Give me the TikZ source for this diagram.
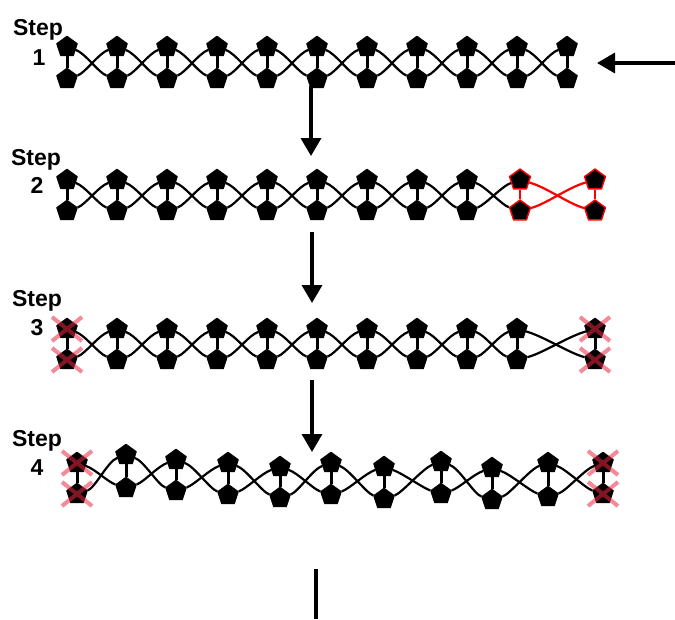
\documentclass[tikz,border=0pt]{standalone}
\usepackage{fontspec}
\setmainfont{Liberation Sans}
\usetikzlibrary{shapes.geometric,arrows.meta}
\definecolor{xred}{RGB}{235,40,65}
\tikzset{
 pent/.style={regular polygon,regular polygon sides=5,minimum size=22pt,inner sep=0pt,fill=black,draw=black,line width=0.6pt,line join=round},
 redpent/.style={pent,draw=red,line width=1.4pt},
 rung/.style={line width=3pt},
 wave/.style={line width=2.2pt},
 steplabel/.style={font=\bfseries\fontsize{23}{25}\selectfont,anchor=base,inner sep=0pt},
 bigarrow/.style={line width=3.5pt,-{Triangle[length=18pt,width=20pt]}},
 xmark/.style={xred,opacity=0.55,line width=4pt},
}
\begin{document}
\begin{tikzpicture}[x=1pt,y=-1pt]
\useasboundingbox (0,0) rectangle (675,619);

% labels
\node[steplabel] (s1) at (38,35) {Step};
\node[steplabel] (n1) at (39,65) {1};
\node[steplabel] (s2) at (36,165) {Step};
\node[steplabel] (n2) at (37,193) {2};
\node[steplabel] (s3) at (37,306) {Step};
\node[steplabel] (n3) at (37,335) {3};
\node[steplabel] (s4) at (37,446) {Step};
\node[steplabel] (n4) at (37,475) {4};

% ---------- Step 1 ----------
\foreach \i in {0,...,10}{
  \node[pent] (t1-\i) at (67+50*\i,47) {};
  \node[pent] (b1-\i) at (67+50*\i,79) {};
  \draw[rung] (t1-\i) -- (b1-\i);
}
\foreach \i [evaluate=\i as \j using int(\i+1)] in {0,...,9}{
  \draw[wave] (t1-\i) .. controls +(18,6) and +(-18,-6) .. (b1-\j);
  \draw[wave] (b1-\i) .. controls +(18,-6) and +(-18,6) .. (t1-\j);
}

% ---------- Step 2 ----------
\foreach \i in {0,...,8}{
  \node[pent] (t2-\i) at (67+50*\i,180) {};
  \node[pent] (b2-\i) at (67+50*\i,211) {};
  \draw[rung] (t2-\i) -- (b2-\i);
}
\node[redpent] (t2-9) at (520,180) {};
\node[redpent] (b2-9) at (520,211) {};
\node[redpent] (t2-10) at (595,180) {};
\node[redpent] (b2-10) at (595,211) {};
\draw[rung,red,line width=2.5pt] (t2-9) -- (b2-9);
\draw[rung,red,line width=2.5pt] (t2-10) -- (b2-10);
\foreach \i [evaluate=\i as \j using int(\i+1)] in {0,...,8}{
  \draw[wave] (t2-\i) .. controls +(18,6) and +(-18,-6) .. (b2-\j);
  \draw[wave] (b2-\i) .. controls +(18,-6) and +(-18,6) .. (t2-\j);
}
\draw[wave,red] (t2-9) .. controls +(26,7) and +(-26,-7) .. (b2-10);
\draw[wave,red] (b2-9) .. controls +(26,-7) and +(-26,7) .. (t2-10);

% ---------- Step 3 ----------
\foreach \i in {0,...,9}{
  \node[pent] (t3-\i) at (67+50*\i,329) {};
  \node[pent] (b3-\i) at (67+50*\i,360) {};
  \draw[rung] (t3-\i) -- (b3-\i);
}
\node[pent] (t3-10) at (595,329) {};
\node[pent] (b3-10) at (595,360) {};
\draw[rung] (t3-10) -- (b3-10);
\foreach \i [evaluate=\i as \j using int(\i+1)] in {0,...,8}{
  \draw[wave] (t3-\i) .. controls +(18,6) and +(-18,-6) .. (b3-\j);
  \draw[wave] (b3-\i) .. controls +(18,-6) and +(-18,6) .. (t3-\j);
}
\draw[wave] (t3-9) .. controls +(26,7) and +(-26,-7) .. (b3-10);
\draw[wave] (b3-9) .. controls +(26,-7) and +(-26,7) .. (t3-10);

% ---------- Step 4 ----------
\foreach \i/\x/\yt/\yb in {0/77/463/494,1/126/455/488,2/176/460/491,3/228/463/495,
  4/280/467/498,5/331/463/495,6/384/467/499,7/441/462/494,8/492/468/500,
  9/548/463/497,10/603/463/494}{
  \node[pent] (t4-\i) at (\x,\yt) {};
  \node[pent] (b4-\i) at (\x,\yb) {};
  \draw[rung] (t4-\i) -- (b4-\i);
}
\foreach \i [evaluate=\i as \j using int(\i+1)] in {0,...,9}{
  \draw[wave] (t4-\i) .. controls +(18,6) and +(-18,-6) .. (b4-\j);
  \draw[wave] (b4-\i) .. controls +(18,-6) and +(-18,6) .. (t4-\j);
}

% ---------- crosses ----------
\foreach \n in {t3-0,b3-0,t3-10,b3-10,t4-0,b4-0,t4-10,b4-10}{
  \draw[xmark] (\n.center) ++(-15,-12) -- ++(30,24)
               (\n.center) ++(-15,12) -- ++(30,-24);
}

% ---------- arrows ----------
\coordinate (r0) at (675,63);
\coordinate (r1) at (597,63);
\draw[bigarrow] (r0) -- (r1);
\coordinate (d1a) at (311,86);
\coordinate (d1b) at (311,156);
\draw[bigarrow] (d1a) -- (d1b);
\coordinate (d2a) at (312,232);
\coordinate (d2b) at (312,303);
\draw[bigarrow] (d2a) -- (d2b);
\coordinate (d3a) at (312,380);
\coordinate (d3b) at (312,452);
\draw[bigarrow] (d3a) -- (d3b);
\coordinate (e1) at (316,569);
\coordinate (e2) at (316,619);
\draw[line width=4pt] (e1) -- (e2);
\end{tikzpicture}
\end{document}
